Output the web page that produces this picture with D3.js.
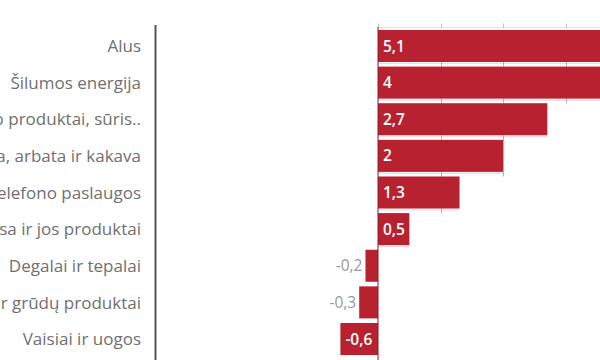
<!DOCTYPE html>
<html>
<head>
<meta charset="utf-8">
<script src="https://cdn.jsdelivr.net/npm/d3@7"></script>
<style>
  html, body { margin: 0; padding: 0; background: #fff; overflow: hidden; }
  svg { display: block; }
  text { font-family: "Open Sans", "Noto Sans", sans-serif; }
</style>
</head>
<body>
<svg id="chart" width="600" height="360"></svg>
<script>
const categories = [
  "Alus",
  "Šilumos energija",
  "Pienas, pieno produktai, sūris..",
  "Kava, arbata ir kakava",
  "Mobiliojo telefono paslaugos",
  "Mėsa ir jos produktai",
  "Degalai ir tepalai",
  "Duona ir grūdų produktai",
  "Vaisiai ir uogos"
];
const values = [5.1, 4, 2.7, 2, 1.3, 0.5, -0.2, -0.3, -0.6];
const valueLabels = ["5,1", "4", "2,7", "2", "1,3", "0,5", "-0,2", "-0,3", "-0,6"];
const gridTicks = [0, 1, 2, 3, 4, 5];

const svg = d3.select("#chart");
const W = 600, H = 360;

const x = d3.scaleLinear().domain([-1, 3.5]).range([315.3, 597.5]);
const y = d3.scaleBand().domain(categories).range([26.3, 358.7])
  .paddingInner(0.125).paddingOuter(0.1);

const x0 = x(0);
const barColor = "#b82230";

// top axis line with small ticks
svg.append("line")
  .attr("x1", x0).attr("x2", W).attr("y1", 27.5).attr("y2", 27.5)
  .attr("stroke", "#e2e2e2").attr("stroke-width", 1);
svg.selectAll("line.topTick").data(gridTicks).enter().append("line")
  .attr("class", "topTick")
  .attr("x1", d => Math.round(x(d)) + 0.5).attr("x2", d => Math.round(x(d)) + 0.5)
  .attr("y1", 23.5).attr("y2", 28)
  .attr("stroke", "#c4c4c4");

// small grid ticks in the gaps below each positive bar
const gapTicks = [];
values.forEach((v, i) => {
  gridTicks.forEach(t => { if (t > 0 && t <= v) gapTicks.push({ i, t }); });
});
svg.selectAll("line.gapLine").data(values.map((v, i) => ({ v, i })).filter(d => d.v > 0)).enter()
  .append("line")
  .attr("class", "gapLine")
  .attr("x1", x0).attr("x2", d => Math.min(W, x(d.v)))
  .attr("y1", d => y(categories[d.i]) + y.bandwidth() + 1.5)
  .attr("y2", d => y(categories[d.i]) + y.bandwidth() + 1.5)
  .attr("stroke", "#f3d9dc").attr("stroke-width", 1.2);
svg.selectAll("line.gapTick").data(gapTicks).enter().append("line")
  .attr("class", "gapTick")
  .attr("x1", d => Math.round(x(d.t)) + 0.5).attr("x2", d => Math.round(x(d.t)) + 0.5)
  .attr("y1", d => y(categories[d.i]) + y.bandwidth())
  .attr("y2", d => y(categories[d.i]) + y.step())
  .attr("stroke", "#b0b0b0");

// bars
svg.selectAll("rect.bar").data(values).enter().append("rect")
  .attr("class", "bar")
  .attr("x", d => x(Math.min(0, d)))
  .attr("width", d => Math.abs(x(d) - x0))
  .attr("y", (d, i) => y(categories[i]))
  .attr("height", y.bandwidth())
  .attr("fill", barColor);

// zero line
svg.append("line")
  .attr("x1", x0).attr("x2", x0).attr("y1", 27).attr("y2", H)
  .attr("stroke", "#8a1a24").attr("stroke-width", 1);

// left axis line
svg.append("line")
  .attr("x1", 155.5).attr("x2", 155.5).attr("y1", 25).attr("y2", H)
  .attr("stroke", "#555").attr("stroke-width", 2);

// category labels
svg.selectAll("text.cat").data(categories).enter().append("text")
  .attr("class", "cat")
  .attr("x", 141)
  .attr("y", d => y(d) + y.bandwidth() / 2)
  .attr("dy", "0.36em")
  .attr("text-anchor", "end")
  .attr("font-size", 17)
  .attr("fill", "#707070")
  .text(d => d);

// value labels
svg.selectAll("text.val").data(values).enter().append("text")
  .attr("class", "val")
  .each(function (d, i) {
    const inside = Math.abs(x(d) - x0) >= 28;
    const sel = d3.select(this)
      .attr("y", y(categories[i]) + y.bandwidth() / 2)
      .attr("dy", "0.36em")
      .attr("font-size", 15.5)
      .text(valueLabels[i]);
    if (inside) {
      sel.attr("x", x(Math.min(0, d)) + 5).attr("text-anchor", "start")
        .attr("fill", "#fff").attr("font-weight", 600);
    } else {
      sel.attr("x", x(d) - 3).attr("text-anchor", "end")
        .attr("fill", "#999").attr("font-weight", 400);
    }
  });
</script>
</body>
</html>
